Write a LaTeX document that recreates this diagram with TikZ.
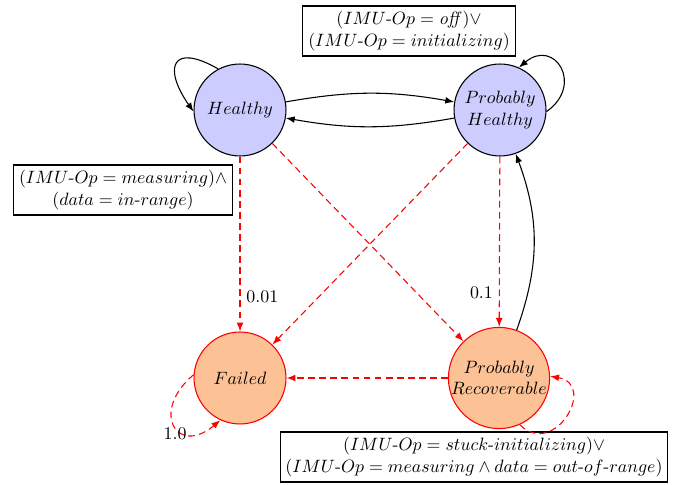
\documentclass[tikz,border=0pt]{standalone}
\usetikzlibrary{arrows.meta}
\begin{document}
\begin{tikzpicture}[x=0.56pt,y=-0.56pt,
  state/.style={circle, draw, semithick, minimum size=51.5pt, inner sep=0pt, align=center},
  ok/.style={state, fill=blue!20, draw=black},
  bad/.style={state, fill=peach, draw=red},
  cond/.style={draw, semithick, align=center, inner sep=3pt},
  trans/.style={-{Latex[length=5pt,width=3.8pt]}, semithick},
  fault/.style={trans, red, dash pattern=on 3.8pt off 2.4pt},
  prob/.style={text=black, font=\normalsize}]
\definecolor{peach}{RGB}{252,194,150}
\useasboundingbox (0,0) rectangle (677,485);

% states
\node[ok]  (H)  at (240,110) {$Healthy$};
\node[ok]  (PH) at (500,110) {$Probably$\\$Healthy$};
\node[bad] (F)  at (240,378) {$Failed$};
\node[bad] (PR) at (499,378) {$Probably$\\$Recoverable$};

% guard conditions
\node[cond] (c1) at (409,31) {$(IMU\mbox{-}Op = \mathit{off})\vee$\\$(IMU\mbox{-}Op = initializing)$};
\node[cond] (c2) at (123,190) {$(IMU\mbox{-}Op = measuring)\wedge$\\$(data = in\mbox{-}range)$};
\node[cond] (c3) at (474,457) {$(IMU\mbox{-}Op = stuck\mbox{-}initializing)\vee$\\$(IMU\mbox{-}Op = measuring \wedge data = out\mbox{-}of\mbox{-}range)$};

% nominal transitions
\draw[trans] (H) to[bend left=10] (PH);
\draw[trans] (PH) to[bend left=10] (H);
\draw[trans] (H.118) to[out=150, in=125, distance=30pt] (H.182);
\draw[trans] (PH.-2) to[out=35, in=40, distance=26pt] (PH.66);
\draw[trans] (PR) to[bend right=20] (PH);

% fault transitions
\draw[fault] (H) -- node[prob, right, pos=0.8] {0.01} (F);
\draw[fault] (PH) -- node[prob, left, pos=0.8] {0.1} (PR);
\draw[fault] (H) -- (PR);
\draw[fault] (PH) -- (F);
\draw[fault] (PR) -- (F);
\draw[fault] (F.176) to[out=220, in=220, distance=32pt]
  node[prob, pos=0.7, anchor=east, inner sep=0pt] {1.0} (F.245);
\draw[fault] (PR.-66) to[out=-45, in=-10, distance=27pt] (PR.2);
\end{tikzpicture}
\end{document}
